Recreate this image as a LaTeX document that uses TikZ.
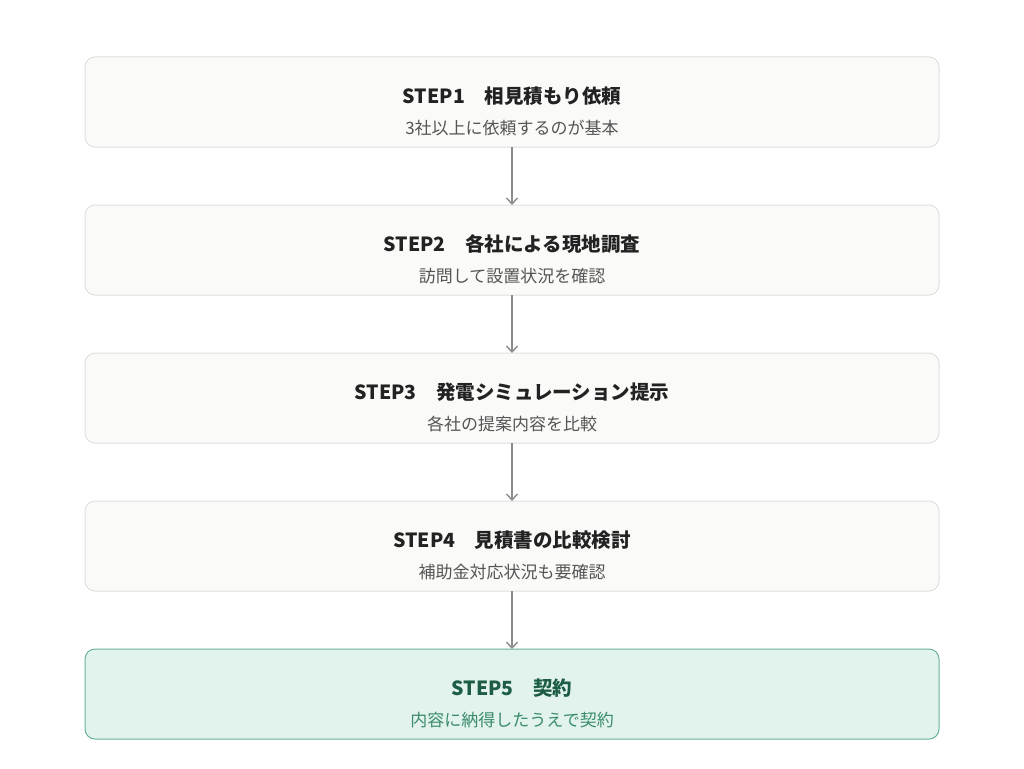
\documentclass[tikz,border=0pt]{standalone}
\usepackage{fontspec}
\setmainfont{Noto Sans CJK JP}
\usetikzlibrary{arrows.meta}
\definecolor{boxfill}{HTML}{FAFAF8}
\definecolor{boxline}{HTML}{E0E0DE}
\definecolor{titletext}{HTML}{222222}
\definecolor{subtext}{HTML}{555555}
\definecolor{goalfill}{HTML}{E1F3EC}
\definecolor{goalline}{HTML}{6AB394}
\definecolor{goaltitle}{HTML}{1D5C45}
\definecolor{goalsub}{HTML}{3A8C6B}
\definecolor{arrowgray}{HTML}{8C8C8A}

\begin{document}
\begin{tikzpicture}
[x=1pt,y=-1pt
,stepbox/.style={draw=boxline,fill=boxfill,line width=1pt,rounded corners=10pt,minimum width=854pt,minimum height=90pt,inner sep=0pt,outer sep=0pt}
,goalbox/.style={stepbox,draw=goalline,fill=goalfill}
,steptitle/.style={font=\bfseries\fontsize{19.5}{23}\selectfont,text=titletext,inner sep=0pt}
,stepsub/.style={font=\fontsize{17}{20}\selectfont,text=subtext,inner sep=0pt}
,goaltitle/.style={steptitle,text=goaltitle}
,goalsub/.style={stepsub,text=goalsub}
,flow/.style={draw=arrowgray,line width=1.4pt,arrows={-Straight Barb[length=6pt,width=11pt]}}]
\useasboundingbox (0,0) rectangle (1024,768);
\node[stepbox] (s1) at (512,102) {};
\node[stepbox] (s2) at (512,250) {};
\node[stepbox] (s3) at (512,398) {};
\node[stepbox] (s4) at (512,546) {};
\node[goalbox] (s5) at (512,694) {};
% titles and notes
\node[steptitle] (t1) at (512,96) {STEP1　相見積もり依頼};
\node[stepsub] (d1) at (512,128) {3社以上に依頼するのが基本};
\node[steptitle] (t2) at (512,244) {STEP2　各社による現地調査};
\node[stepsub] (d2) at (512,276) {訪問して設置状況を確認};
\node[steptitle] (t3) at (512,392) {STEP3　発電シミュレーション提示};
\node[stepsub] (d3) at (512,424) {各社の提案内容を比較};
\node[steptitle] (t4) at (512,540) {STEP4　見積書の比較検討};
\node[stepsub] (d4) at (512,572) {補助金対応状況も要確認};
\node[goaltitle] (t5) at (512,688) {STEP5　契約};
\node[goalsub] (d5) at (512,720) {内容に納得したうえで契約};
\draw[flow] (s1) -- (s2);
\draw[flow] (s2) -- (s3);
\draw[flow] (s3) -- (s4);
\draw[flow] (s4) -- (s5);
\end{tikzpicture}
\end{document}
